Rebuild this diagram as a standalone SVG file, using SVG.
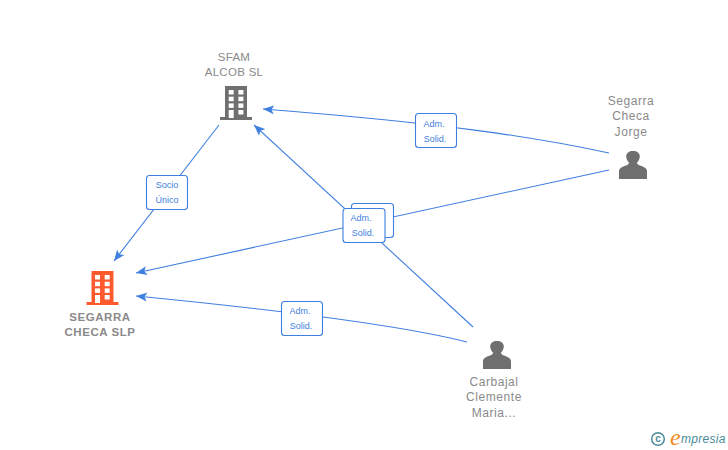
<svg xmlns="http://www.w3.org/2000/svg" width="728" height="450" viewBox="0 0 728 450">
<style>
text{font-family:"Liberation Sans",Arial,sans-serif}
.n{font-size:11.5px;fill:#8a8a8a;text-anchor:middle;letter-spacing:.3px}
.p{font-size:12px;letter-spacing:.55px}
.b{font-weight:700;letter-spacing:.55px;font-size:11.5px}
.l{font-size:9px;fill:#3f7fe0;text-anchor:middle}
.c{fill:none;stroke:#3f7fe0;stroke-width:1.1}
.box{fill:#fff;stroke:#3f7fe0;stroke-width:1.1}
.g{fill:#6f6f6f}
.o{fill:#ff5a2d}
</style>
<defs>
<marker id="a" markerWidth="12" markerHeight="10" refX="11" refY="5" orient="auto" markerUnits="userSpaceOnUse"><path d="M11 5L0 0.500L2.500 5L0 9.500Z" fill="#3f7fe0"/></marker>
<path id="bld" d="M5 0H27V31H32V34H0V31H5Z"/>
<g id="win" fill="#fff">
<rect x="0" y="0" width="5" height="4.500"/><rect x="9.700" y="0" width="5" height="4.500"/>
<rect x="0" y="6.700" width="5" height="4.500"/><rect x="9.700" y="6.700" width="5" height="4.500"/>
<rect x="0" y="13.400" width="5" height="4.500"/><rect x="9.700" y="13.400" width="5" height="4.500"/>
<rect x="0" y="20" width="5" height="8"/><rect x="9.700" y="20" width="5" height="4.500"/>
</g>
<path id="person" d="M0 28V20.500C0 17 3 16 7 14.500C9 13.700 10 12.800 10 11.500C8.200 9.800 7.200 7.500 7.200 5.500C7.200 2 10 0 14 0C18 0 20.800 2 20.800 5.500C20.800 7.500 19.800 9.800 18 11.500C18 12.800 19 13.700 21 14.500C25 16 28 17 28 20.500V28Z"/>
</defs>
<g id="connectors">
<path class="c" d="M219 125L114 261" marker-end="url(#a)"/>
<path class="c" d="M609 153C530 136 440 123 263 109" marker-end="url(#a)"/>
<path class="c" d="M609 170L136 273" marker-end="url(#a)"/>
<path class="c" d="M473 327L254 125" marker-end="url(#a)"/>
<path class="c" d="M467 342C420 330 330 315 136 296" marker-end="url(#a)"/>
</g>
<g id="edge-labels">
<rect class="box" x="146.500" y="175.500" width="41" height="34" rx="3"/>
<text class="l" x="167" y="188">Socio</text><text class="l" x="167" y="203">Único</text>
<rect class="box" x="415.500" y="113.500" width="41" height="34" rx="3"/>
<text class="l" x="434" y="127">Adm.</text><text class="l" x="435" y="142">Solid.</text>
<rect class="box" x="351.500" y="203.500" width="42" height="34" rx="3"/>
<rect class="box" x="343" y="208.500" width="42" height="34" rx="3"/>
<text class="l" x="361" y="221">Adm.</text><text class="l" x="363" y="236">Solid.</text>
<rect class="box" x="281.500" y="301.500" width="41" height="34" rx="3"/>
<text class="l" x="300" y="314">Adm.</text><text class="l" x="301" y="329">Solid.</text>
</g>
<g id="sfam">
<text class="n" x="234" y="61">SFAM</text><text class="n" x="234" y="76">ALCOB  SL</text>
<use href="#bld" x="220" y="86" class="g"/>
<use href="#win" x="228.700" y="90"/>
</g>
<g id="segarra-slp">
<use href="#bld" x="86.500" y="271" class="o"/>
<use href="#win" x="95" y="275"/>
<text class="n b" x="100" y="321">SEGARRA</text><text class="n b" x="100" y="336">CHECA SLP</text>
</g>
<g id="segarra-jorge">
<text class="n p" x="631" y="105">Segarra</text><text class="n p" x="631" y="120">Checa</text><text class="n p" x="631" y="136">Jorge</text>
<use href="#person" x="619" y="151" class="g"/>
</g>
<g id="carbajal">
<use href="#person" x="483" y="341" class="g"/>
<text class="n p" x="494" y="386">Carbajal</text><text class="n p" x="494" y="401">Clemente</text><text class="n p" x="494" y="417">Maria...</text>
</g>
<g id="logo">
<circle cx="658" cy="439" r="6.300" fill="none" stroke="#4a8a9a" stroke-width="1.500"/>
<text x="658" y="442" font-size="10" font-weight="700" text-anchor="middle" fill="#4a8a9a">c</text>
<text x="670" y="445" font-size="24" font-style="italic" fill="#f08a1d" style="font-family:'Liberation Serif',serif">e</text>
<text x="681" y="443" font-size="12" font-style="italic" letter-spacing=".3" fill="#4a8a9a">mpresia</text>
</g>
</svg>
